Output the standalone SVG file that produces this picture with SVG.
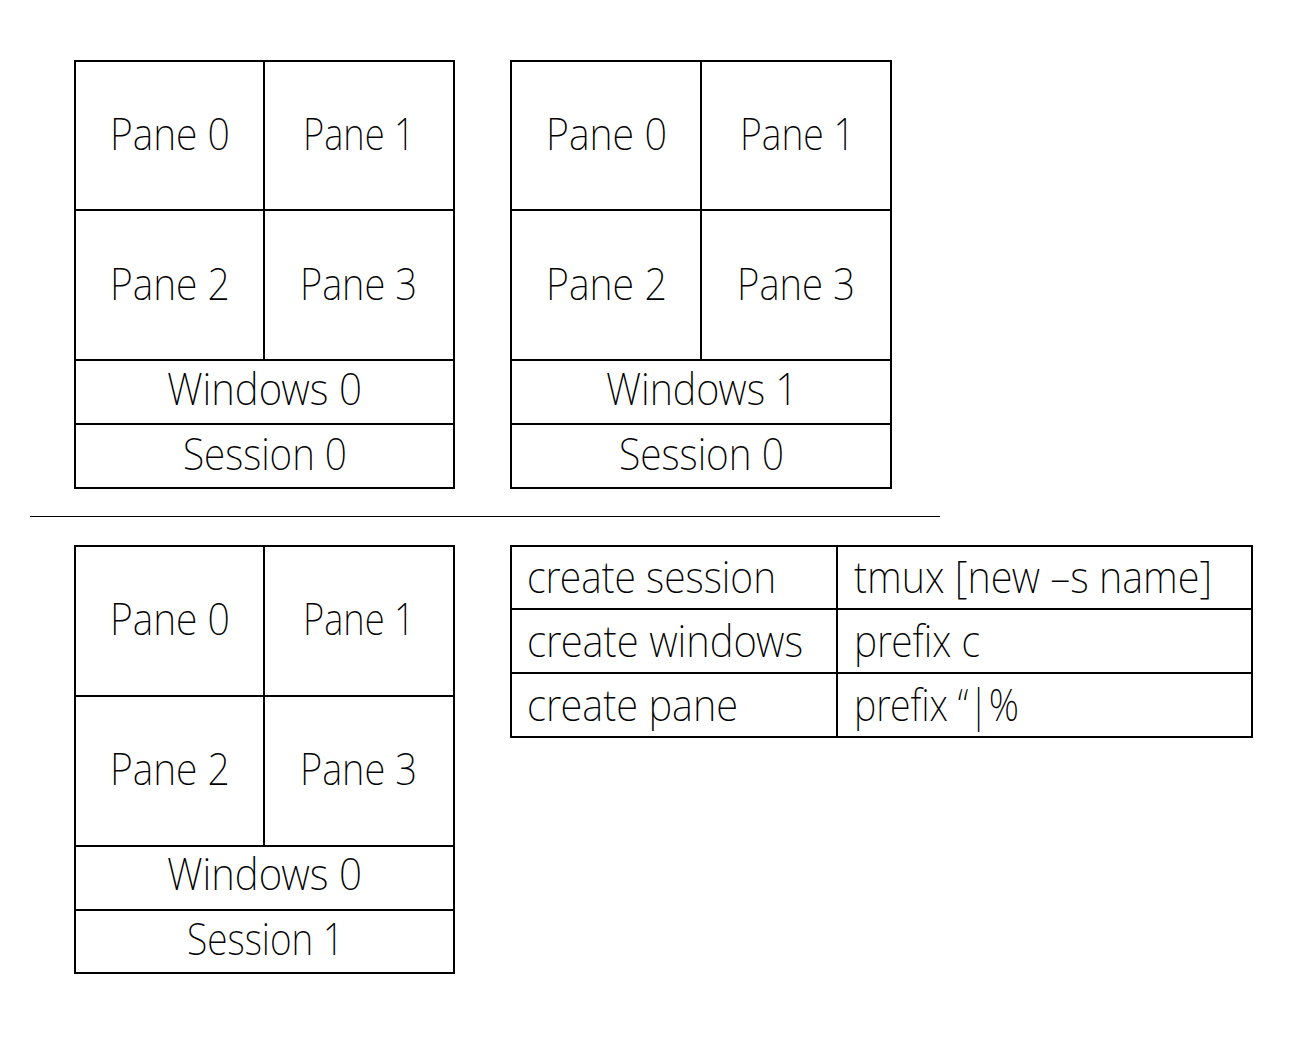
<svg xmlns="http://www.w3.org/2000/svg" width="1294" height="1038" viewBox="0 0 1294 1038">
<style>
.b{fill:none;stroke:#000;stroke-width:2}
.l{stroke:#000;stroke-width:2}
.t{font-family:"Noto Sans","Open Sans","Liberation Sans",sans-serif;font-weight:200;font-size:45px;fill:#000}
</style>
<rect width="1294" height="1038" fill="#fff"/>
<g id="session0-window0">
<rect class="b" x="75" y="61" width="379" height="427"/>
<line class="l" x1="264" y1="61" x2="264" y2="360"/>
<line class="l" x1="75" y1="210" x2="454" y2="210"/>
<line class="l" x1="75" y1="360" x2="454" y2="360"/>
<line class="l" x1="75" y1="424" x2="454" y2="424"/>
<text class="t" x="110" y="150" textLength="120" lengthAdjust="spacingAndGlyphs">Pane 0</text>
<text class="t" x="303" y="150" textLength="112" lengthAdjust="spacingAndGlyphs">Pane 1</text>
<text class="t" x="110" y="300" textLength="120" lengthAdjust="spacingAndGlyphs">Pane 2</text>
<text class="t" x="300" y="300" textLength="117" lengthAdjust="spacingAndGlyphs">Pane 3</text>
<text class="t" x="167" y="405" textLength="195" lengthAdjust="spacingAndGlyphs">Windows 0</text>
<text class="t" x="183" y="470" textLength="164" lengthAdjust="spacingAndGlyphs">Session 0</text>
</g>
<g id="session0-window1">
<rect class="b" x="511" y="61" width="380" height="427"/>
<line class="l" x1="701" y1="61" x2="701" y2="360"/>
<line class="l" x1="511" y1="210" x2="891" y2="210"/>
<line class="l" x1="511" y1="360" x2="891" y2="360"/>
<line class="l" x1="511" y1="424" x2="891" y2="424"/>
<text class="t" x="546" y="150" textLength="121" lengthAdjust="spacingAndGlyphs">Pane 0</text>
<text class="t" x="740" y="150" textLength="115" lengthAdjust="spacingAndGlyphs">Pane 1</text>
<text class="t" x="546" y="300" textLength="121" lengthAdjust="spacingAndGlyphs">Pane 2</text>
<text class="t" x="737" y="300" textLength="118" lengthAdjust="spacingAndGlyphs">Pane 3</text>
<text class="t" x="606" y="405" textLength="192" lengthAdjust="spacingAndGlyphs">Windows 1</text>
<text class="t" x="619" y="470" textLength="165" lengthAdjust="spacingAndGlyphs">Session 0</text>
</g>
<g id="divider">
<line x1="30" y1="516.5" x2="940" y2="516.5" stroke="#000" stroke-width="1"/>
</g>
<g id="session1-window0">
<rect class="b" x="75" y="546" width="379" height="427"/>
<line class="l" x1="264" y1="546" x2="264" y2="846"/>
<line class="l" x1="75" y1="696" x2="454" y2="696"/>
<line class="l" x1="75" y1="846" x2="454" y2="846"/>
<line class="l" x1="75" y1="910" x2="454" y2="910"/>
<text class="t" x="110" y="635" textLength="120" lengthAdjust="spacingAndGlyphs">Pane 0</text>
<text class="t" x="303" y="635" textLength="112" lengthAdjust="spacingAndGlyphs">Pane 1</text>
<text class="t" x="110" y="785" textLength="120" lengthAdjust="spacingAndGlyphs">Pane 2</text>
<text class="t" x="300" y="785" textLength="117" lengthAdjust="spacingAndGlyphs">Pane 3</text>
<text class="t" x="167" y="890" textLength="195" lengthAdjust="spacingAndGlyphs">Windows 0</text>
<text class="t" x="187" y="955" textLength="157" lengthAdjust="spacingAndGlyphs">Session 1</text>
</g>
<g id="commands-table">
<rect class="b" x="511" y="546" width="741" height="191"/>
<line class="l" x1="837" y1="546" x2="837" y2="737"/>
<line class="l" x1="511" y1="609" x2="1252" y2="609"/>
<line class="l" x1="511" y1="673" x2="1252" y2="673"/>
<text class="t" x="527" y="593" textLength="249" lengthAdjust="spacingAndGlyphs">create session</text>
<text class="t" x="854" y="593" textLength="358" lengthAdjust="spacingAndGlyphs">tmux [new –s name]</text>
<text class="t" x="527" y="657" textLength="276" lengthAdjust="spacingAndGlyphs">create windows</text>
<text class="t" x="854" y="657" textLength="126" lengthAdjust="spacingAndGlyphs">prefix c</text>
<text class="t" x="527" y="721" textLength="211" lengthAdjust="spacingAndGlyphs">create pane</text>
<text class="t" x="854" y="721" textLength="165" lengthAdjust="spacingAndGlyphs">prefix “|%</text>
</g>
</svg>
